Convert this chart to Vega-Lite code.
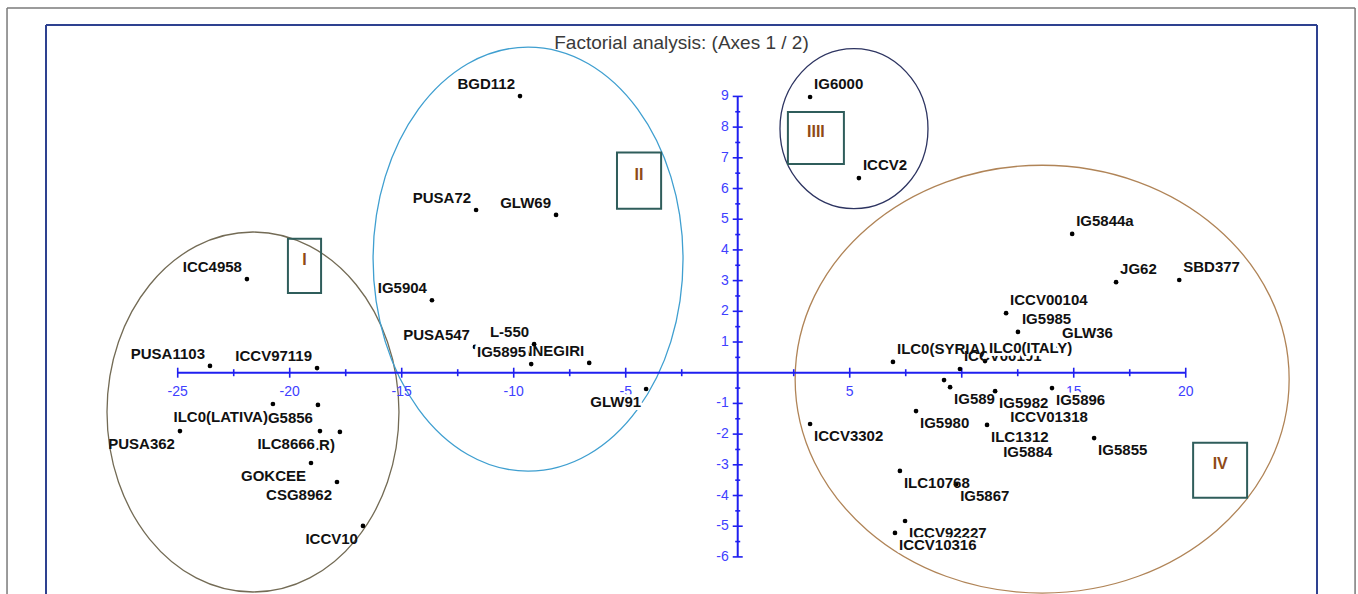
{
  "$schema": "https://vega.github.io/schema/vega-lite/v6.json",
  "width": 1271,
  "height": 569,
  "autosize": {"type": "none"},
  "padding": {"left": 46, "top": 25, "right": 41, "bottom": 0},
  "background": "white",
  "config": {"view": {"stroke": null}, "axis": {"disable": true}},
  "datasets": {
    "clusters": [
      {"group": "I", "cx": -21.64, "cy": -1.28, "bx1": -20.08, "bx2": -18.6, "by1": 4.36, "by2": 2.6, "tx": -19.34, "ty": 3.48},
      {"group": "II", "cx": -9.36, "cy": 3.7, "bx1": -5.39, "bx2": -3.42, "by1": 7.17, "by2": 5.34, "tx": -4.41, "ty": 6.26},
      {"group": "IIII", "cx": 5.19, "cy": 7.95, "bx1": 2.24, "bx2": 4.74, "by1": 8.49, "by2": 6.8, "tx": 3.49, "ty": 7.65},
      {"group": "IV", "cx": 13.59, "cy": -0.21, "bx1": 20.33, "bx2": 22.74, "by1": -2.28, "by2": -4.07, "tx": 21.54, "ty": -3.18}
    ],
    "xticks": [
      {"v": -25, "k": "major"}, {"v": -22.5, "k": "minor"}, {"v": -20, "k": "major"}, {"v": -17.5, "k": "minor"},
      {"v": -15, "k": "major"}, {"v": -12.5, "k": "minor"}, {"v": -10, "k": "major"}, {"v": -7.5, "k": "minor"},
      {"v": -5, "k": "major"}, {"v": -2.5, "k": "minor"}, {"v": 2.5, "k": "minor"}, {"v": 5, "k": "major"},
      {"v": 7.5, "k": "minor"}, {"v": 10, "k": "major"}, {"v": 12.5, "k": "minor"}, {"v": 15, "k": "major"},
      {"v": 17.5, "k": "minor"}, {"v": 20, "k": "major"}
    ],
    "yticks": [
      {"v": 9, "k": "major"}, {"v": 8.5, "k": "minor"}, {"v": 8, "k": "major"}, {"v": 7.5, "k": "minor"},
      {"v": 7, "k": "major"}, {"v": 6.5, "k": "minor"}, {"v": 6, "k": "major"}, {"v": 5.5, "k": "minor"},
      {"v": 5, "k": "major"}, {"v": 4.5, "k": "minor"}, {"v": 4, "k": "major"}, {"v": 3.5, "k": "minor"},
      {"v": 3, "k": "major"}, {"v": 2.5, "k": "minor"}, {"v": 2, "k": "major"}, {"v": 1.5, "k": "minor"},
      {"v": 1, "k": "major"}, {"v": 0.5, "k": "minor"}, {"v": -0.5, "k": "minor"}, {"v": -1, "k": "major"},
      {"v": -1.5, "k": "minor"}, {"v": -2, "k": "major"}, {"v": -2.5, "k": "minor"}, {"v": -3, "k": "major"},
      {"v": -3.5, "k": "minor"}, {"v": -4, "k": "major"}, {"v": -4.5, "k": "minor"}, {"v": -5, "k": "major"},
      {"v": -5.5, "k": "minor"}, {"v": -6, "k": "major"}
    ],
    "xlabels": [
      {"v": -25, "t": "-25"}, {"v": -20, "t": "-20"}, {"v": -15, "t": "-15"}, {"v": -10, "t": "-10"},
      {"v": -5, "t": "-5"}, {"v": 5, "t": "5"}, {"v": 15, "t": "15"}, {"v": 20, "t": "20"}
    ],
    "ylabels": [
      {"v": 9, "t": "9"}, {"v": 8, "t": "8"}, {"v": 7, "t": "7"}, {"v": 6, "t": "6"}, {"v": 5, "t": "5"},
      {"v": 4, "t": "4"}, {"v": 3, "t": "3"}, {"v": 2, "t": "2"}, {"v": 1, "t": "1"}, {"v": -1, "t": "-1"},
      {"v": -2, "t": "-2"}, {"v": -3, "t": "-3"}, {"v": -4, "t": "-4"}, {"v": -5, "t": "-5"}, {"v": -6, "t": "-6"}
    ],
    "obs": [
      {"name": "BGD112", "x": -9.72, "y": 9.01, "pos": "ul", "z": 0},
      {"name": "PUSA72", "x": -11.68, "y": 5.3, "pos": "ul", "z": 0},
      {"name": "GLW69", "x": -8.11, "y": 5.14, "pos": "ul", "z": 0},
      {"name": "ICC4958", "x": -21.91, "y": 3.05, "pos": "ul", "z": 0},
      {"name": "IG5904", "x": -13.65, "y": 2.36, "pos": "ul", "z": 0},
      {"name": "PUSA1103", "x": -23.56, "y": 0.22, "pos": "ul", "z": 0},
      {"name": "ICCV97119", "x": -18.78, "y": 0.15, "pos": "ul", "z": 0},
      {"name": "PUSA547", "x": -11.73, "y": 0.84, "pos": "ul", "z": 0},
      {"name": "L-550", "x": -9.09, "y": 0.93, "pos": "ul", "z": 0},
      {"name": "IG5895", "x": -9.22, "y": 0.28, "pos": "ul", "z": 1},
      {"name": "NNEGIRI", "x": -6.63, "y": 0.32, "pos": "ul", "z": 0},
      {"name": "GLW91", "x": -4.09, "y": -0.53, "pos": "ll", "z": 1},
      {"name": "ILC0(LATIVA)", "x": -20.75, "y": -1.02, "pos": "ll", "z": 0},
      {"name": "G5856", "x": -18.74, "y": -1.05, "pos": "ll", "z": 0},
      {"name": "PUSA362", "x": -24.9, "y": -1.9, "pos": "ll", "z": 0},
      {"name": "ILC8666", "x": -18.65, "y": -1.9, "pos": "ll", "z": 1},
      {"name": ".R)", "x": -17.76, "y": -1.93, "pos": "ll", "z": 0},
      {"name": "GOKCEE", "x": -19.05, "y": -2.94, "pos": "ll", "z": 0},
      {"name": "CSG8962", "x": -17.89, "y": -3.56, "pos": "ll", "z": 0},
      {"name": "ICCV10", "x": -16.73, "y": -4.99, "pos": "ll", "z": 0},
      {"name": "IG6000", "x": 3.23, "y": 8.98, "pos": "ur", "z": 0},
      {"name": "ICCV2", "x": 5.41, "y": 6.34, "pos": "ur", "z": 0},
      {"name": "IG5844a", "x": 14.93, "y": 4.52, "pos": "ur", "z": 0},
      {"name": "JG62", "x": 16.89, "y": 2.95, "pos": "ur", "z": 0},
      {"name": "SBD377", "x": 19.71, "y": 3.02, "pos": "ur", "z": 0},
      {"name": "ICCV00104", "x": 11.98, "y": 1.94, "pos": "ur", "z": 0},
      {"name": "IG5985", "x": 12.51, "y": 1.33, "pos": "ur", "z": 0},
      {"name": "GLW36", "x": 14.3, "y": 0.87, "pos": "ur", "z": 0},
      {"name": "ILC0(SYRIA)", "x": 6.93, "y": 0.35, "pos": "ur", "z": 0},
      {"name": "ICCV00101", "x": 9.92, "y": 0.12, "pos": "ur", "z": 0},
      {"name": "ILC0(ITALY)", "x": 11.04, "y": 0.38, "pos": "ur", "z": 1},
      {"name": "", "x": 9.21, "y": -0.24, "pos": "lr", "z": 0},
      {"name": "IG589", "x": 9.48, "y": -0.47, "pos": "lr", "z": 0},
      {"name": "IG5982", "x": 11.49, "y": -0.6, "pos": "lr", "z": 1},
      {"name": "IG5896", "x": 14.03, "y": -0.5, "pos": "lr", "z": 1},
      {"name": "ICCV01318", "x": 11.99, "y": -1.05, "pos": "lr", "z": 0},
      {"name": "IG5980", "x": 7.96, "y": -1.25, "pos": "lr", "z": 0},
      {"name": "ILC1312", "x": 11.13, "y": -1.7, "pos": "lr", "z": 1},
      {"name": "IG5884", "x": 11.67, "y": -2.18, "pos": "lr", "z": 0},
      {"name": "IG5855", "x": 15.91, "y": -2.13, "pos": "lr", "z": 0},
      {"name": "ICCV3302", "x": 3.23, "y": -1.67, "pos": "lr", "z": 0},
      {"name": "ILC10768", "x": 7.24, "y": -3.2, "pos": "lr", "z": 0},
      {"name": "IG5867", "x": 9.75, "y": -3.63, "pos": "lr", "z": 1},
      {"name": "ICCV92227", "x": 7.47, "y": -4.83, "pos": "lr", "z": 0},
      {"name": "ICCV10316", "x": 7.02, "y": -5.22, "pos": "lr", "z": 1}
    ]
  },
  "layer": [
    {
      "data": {"name": "clusters"},
      "transform": [{"filter": "datum.group === 'I'"}],
      "mark": {"type": "point", "shape": "M -0.811 0 A 0.811 1 0 1 0 0.811 0 A 0.811 1 0 1 0 -0.811 0 Z", "size": 129600, "filled": false, "stroke": "#736b55", "strokeWidth": 1.3, "opacity": 1},
      "encoding": {
        "x": {"field": "cx", "type": "quantitative", "scale": {"domain": [-30.88, 25.86], "nice": false, "zero": false}},
        "y": {"field": "cy", "type": "quantitative", "scale": {"domain": [-7.208, 11.326], "nice": false, "zero": false}}
      }
    },
    {
      "data": {"name": "clusters"},
      "transform": [{"filter": "datum.group === 'II'"}],
      "mark": {"type": "point", "shape": "M -0.731 0 A 0.731 1 0 1 0 0.731 0 A 0.731 1 0 1 0 -0.731 0 Z", "size": 179776, "filled": false, "stroke": "#3f9fd0", "strokeWidth": 1.3, "opacity": 1},
      "encoding": {
        "x": {"field": "cx", "type": "quantitative", "scale": {"domain": [-30.88, 25.86], "nice": false, "zero": false}},
        "y": {"field": "cy", "type": "quantitative", "scale": {"domain": [-7.208, 11.326], "nice": false, "zero": false}}
      }
    },
    {
      "data": {"name": "clusters"},
      "transform": [{"filter": "datum.group === 'IIII'"}],
      "mark": {"type": "point", "shape": "M -0.925 0 A 0.925 1 0 1 0 0.925 0 A 0.925 1 0 1 0 -0.925 0 Z", "size": 25600, "filled": false, "stroke": "#2d3461", "strokeWidth": 1.3, "opacity": 1},
      "encoding": {
        "x": {"field": "cx", "type": "quantitative", "scale": {"domain": [-30.88, 25.86], "nice": false, "zero": false}},
        "y": {"field": "cy", "type": "quantitative", "scale": {"domain": [-7.208, 11.326], "nice": false, "zero": false}}
      }
    },
    {
      "data": {"name": "clusters"},
      "transform": [{"filter": "datum.group === 'IV'"}],
      "mark": {"type": "point", "shape": "M -1 0 A 1 0.866 0 1 0 1 0 A 1 0.866 0 1 0 -1 0 Z", "size": 244036, "filled": false, "stroke": "#b08457", "strokeWidth": 1.3, "opacity": 1},
      "encoding": {
        "x": {"field": "cx", "type": "quantitative", "scale": {"domain": [-30.88, 25.86], "nice": false, "zero": false}},
        "y": {"field": "cy", "type": "quantitative", "scale": {"domain": [-7.208, 11.326], "nice": false, "zero": false}}
      }
    },
    {
      "data": {"name": "clusters"},
      "mark": {"type": "rect", "filled": false, "stroke": "#2f5d5b", "strokeWidth": 2},
      "encoding": {
        "x": {"field": "bx1", "type": "quantitative", "scale": {"domain": [-30.88, 25.86], "nice": false, "zero": false}},
        "x2": {"field": "bx2"},
        "y": {"field": "by1", "type": "quantitative", "scale": {"domain": [-7.208, 11.326], "nice": false, "zero": false}},
        "y2": {"field": "by2"}
      }
    },
    {
      "data": {"name": "clusters"},
      "mark": {"type": "text", "font": "Liberation Sans", "fontSize": 16, "fontWeight": "bold", "color": "#8f4a16", "baseline": "middle", "align": "center", "dy": -6},
      "encoding": {
        "x": {"field": "tx", "type": "quantitative", "scale": {"domain": [-30.88, 25.86], "nice": false, "zero": false}},
        "y": {"field": "ty", "type": "quantitative", "scale": {"domain": [-7.208, 11.326], "nice": false, "zero": false}},
        "text": {"field": "group", "type": "nominal"}
      }
    },
    {
      "data": {"values": [{}]},
      "layer": [
        {
          "mark": {"type": "rule", "color": "#2e4190", "strokeWidth": 2},
          "encoding": {"x": {"datum": -30.88, "scale": {"domain": [-30.88, 25.86], "nice": false, "zero": false}}, "y": {"datum": -7.208, "scale": {"domain": [-7.208, 11.326], "nice": false, "zero": false}}, "y2": {"datum": 11.326}}
        },
        {
          "mark": {"type": "rule", "color": "#2e4190", "strokeWidth": 2},
          "encoding": {"x": {"datum": 25.86}, "y": {"datum": -7.208}, "y2": {"datum": 11.326}}
        },
        {
          "mark": {"type": "rule", "color": "#2e4190", "strokeWidth": 2},
          "encoding": {"x": {"datum": -30.88}, "x2": {"datum": 25.86}, "y": {"datum": 11.326}}
        },
        {
          "mark": {"type": "rule", "color": "#7a7a7a", "strokeWidth": 1.5},
          "encoding": {"x": {"datum": -32.62}, "y": {"datum": -7.208}, "y2": {"datum": 11.88}}
        },
        {
          "mark": {"type": "rule", "color": "#7a7a7a", "strokeWidth": 1.5},
          "encoding": {"x": {"datum": 27.56}, "y": {"datum": -7.208}, "y2": {"datum": 11.88}}
        },
        {
          "mark": {"type": "rule", "color": "#7a7a7a", "strokeWidth": 1.5},
          "encoding": {"x": {"datum": -32.62}, "x2": {"datum": 27.56}, "y": {"datum": 11.88}}
        },
        {
          "mark": {"type": "rule", "color": "#1f1ff0", "strokeWidth": 2},
          "encoding": {"x": {"datum": -25}, "x2": {"datum": 20}, "y": {"datum": 0}}
        },
        {
          "mark": {"type": "rule", "color": "#1f1ff0", "strokeWidth": 2},
          "encoding": {"x": {"datum": 0}, "y": {"datum": -6}, "y2": {"datum": 9}}
        },
        {
          "mark": {"type": "text", "text": "Factorial analysis: (Axes 1 / 2)", "font": "Liberation Sans", "fontSize": 19, "color": "#3a3a3a", "align": "center", "baseline": "alphabetic"},
          "encoding": {"x": {"datum": -2.51}, "y": {"datum": 10.54}}
        }
      ]
    },
    {
      "data": {"name": "xticks"},
      "transform": [{"filter": "datum.k === 'major'"}],
      "mark": {"type": "point", "shape": "M 0 -1 L 0 1", "size": 100, "filled": false, "stroke": "#1f1ff0", "strokeWidth": 1.6, "opacity": 1},
      "encoding": {"x": {"field": "v", "type": "quantitative"}, "y": {"datum": 0}}
    },
    {
      "data": {"name": "xticks"},
      "transform": [{"filter": "datum.k === 'minor'"}],
      "mark": {"type": "point", "shape": "M 0 -1 L 0 1", "size": 49, "filled": false, "stroke": "#1f1ff0", "strokeWidth": 1.6, "opacity": 1},
      "encoding": {"x": {"field": "v", "type": "quantitative"}, "y": {"datum": 0}}
    },
    {
      "data": {"name": "yticks"},
      "transform": [{"filter": "datum.k === 'major'"}],
      "mark": {"type": "point", "shape": "M -1 0 L 1 0", "size": 100, "filled": false, "stroke": "#1f1ff0", "strokeWidth": 1.6, "opacity": 1},
      "encoding": {"x": {"datum": 0}, "y": {"field": "v", "type": "quantitative"}}
    },
    {
      "data": {"name": "yticks"},
      "transform": [{"filter": "datum.k === 'minor'"}],
      "mark": {"type": "point", "shape": "M -1 0 L 1 0", "size": 25, "filled": false, "stroke": "#1f1ff0", "strokeWidth": 1.6, "opacity": 1},
      "encoding": {"x": {"datum": 0}, "y": {"field": "v", "type": "quantitative"}}
    },
    {
      "data": {"name": "xlabels"},
      "mark": {"type": "text", "font": "Liberation Sans", "fontSize": 14, "color": "#4040ff", "align": "center", "baseline": "middle", "dy": 19},
      "encoding": {"x": {"field": "v", "type": "quantitative"}, "y": {"datum": 0}, "text": {"field": "t", "type": "nominal"}}
    },
    {
      "data": {"name": "ylabels"},
      "mark": {"type": "text", "font": "Liberation Sans", "fontSize": 14, "color": "#4040ff", "align": "right", "baseline": "middle", "dx": -9},
      "encoding": {"x": {"datum": 0}, "y": {"field": "v", "type": "quantitative"}, "text": {"field": "t", "type": "nominal"}}
    },
    {
      "data": {"name": "obs"},
      "mark": {"type": "point", "shape": "circle", "size": 22, "filled": true, "color": "#000000", "opacity": 1},
      "encoding": {"x": {"field": "x", "type": "quantitative"}, "y": {"field": "y", "type": "quantitative"}}
    },
    {
      "data": {"name": "obs"},
      "transform": [{"filter": "datum.pos === 'ul' && datum.z === 0"}],
      "mark": {"type": "text", "font": "Liberation Sans", "fontSize": 15, "fontWeight": "bold", "color": "#111111", "align": "right", "baseline": "alphabetic", "dx": -5, "dy": -7},
      "encoding": {"x": {"field": "x", "type": "quantitative"}, "y": {"field": "y", "type": "quantitative"}, "text": {"field": "name", "type": "nominal"}}
    },
    {
      "data": {"name": "obs"},
      "transform": [{"filter": "datum.pos === 'ur' && datum.z === 0"}],
      "mark": {"type": "text", "font": "Liberation Sans", "fontSize": 15, "fontWeight": "bold", "color": "#111111", "align": "left", "baseline": "alphabetic", "dx": 4, "dy": -8},
      "encoding": {"x": {"field": "x", "type": "quantitative"}, "y": {"field": "y", "type": "quantitative"}, "text": {"field": "name", "type": "nominal"}}
    },
    {
      "data": {"name": "obs"},
      "transform": [{"filter": "datum.pos === 'll' && datum.z === 0"}],
      "mark": {"type": "text", "font": "Liberation Sans", "fontSize": 15, "fontWeight": "bold", "color": "#111111", "align": "right", "baseline": "alphabetic", "dx": -5, "dy": 18},
      "encoding": {"x": {"field": "x", "type": "quantitative"}, "y": {"field": "y", "type": "quantitative"}, "text": {"field": "name", "type": "nominal"}}
    },
    {
      "data": {"name": "obs"},
      "transform": [{"filter": "datum.pos === 'lr' && datum.z === 0"}],
      "mark": {"type": "text", "font": "Liberation Sans", "fontSize": 15, "fontWeight": "bold", "color": "#111111", "align": "left", "baseline": "alphabetic", "dx": 4, "dy": 17},
      "encoding": {"x": {"field": "x", "type": "quantitative"}, "y": {"field": "y", "type": "quantitative"}, "text": {"field": "name", "type": "nominal"}}
    },
    {
      "data": {"name": "obs"},
      "transform": [{"filter": "datum.pos === 'ul' && datum.z === 1"}],
      "mark": {"type": "text", "font": "Liberation Sans", "fontSize": 15, "fontWeight": "bold", "fill": "white", "stroke": "white", "strokeWidth": 6, "strokeJoin": "round", "align": "right", "baseline": "alphabetic", "dx": -5, "dy": -7},
      "encoding": {"x": {"field": "x", "type": "quantitative"}, "y": {"field": "y", "type": "quantitative"}, "text": {"field": "name", "type": "nominal"}}
    },
    {
      "data": {"name": "obs"},
      "transform": [{"filter": "datum.pos === 'ur' && datum.z === 1"}],
      "mark": {"type": "text", "font": "Liberation Sans", "fontSize": 15, "fontWeight": "bold", "fill": "white", "stroke": "white", "strokeWidth": 6, "strokeJoin": "round", "align": "left", "baseline": "alphabetic", "dx": 4, "dy": -8},
      "encoding": {"x": {"field": "x", "type": "quantitative"}, "y": {"field": "y", "type": "quantitative"}, "text": {"field": "name", "type": "nominal"}}
    },
    {
      "data": {"name": "obs"},
      "transform": [{"filter": "datum.pos === 'll' && datum.z === 1"}],
      "mark": {"type": "text", "font": "Liberation Sans", "fontSize": 15, "fontWeight": "bold", "fill": "white", "stroke": "white", "strokeWidth": 6, "strokeJoin": "round", "align": "right", "baseline": "alphabetic", "dx": -5, "dy": 18},
      "encoding": {"x": {"field": "x", "type": "quantitative"}, "y": {"field": "y", "type": "quantitative"}, "text": {"field": "name", "type": "nominal"}}
    },
    {
      "data": {"name": "obs"},
      "transform": [{"filter": "datum.pos === 'lr' && datum.z === 1"}],
      "mark": {"type": "text", "font": "Liberation Sans", "fontSize": 15, "fontWeight": "bold", "fill": "white", "stroke": "white", "strokeWidth": 6, "strokeJoin": "round", "align": "left", "baseline": "alphabetic", "dx": 4, "dy": 17},
      "encoding": {"x": {"field": "x", "type": "quantitative"}, "y": {"field": "y", "type": "quantitative"}, "text": {"field": "name", "type": "nominal"}}
    },
    {
      "data": {"name": "obs"},
      "transform": [{"filter": "datum.pos === 'ul' && datum.z === 1"}],
      "mark": {"type": "text", "font": "Liberation Sans", "fontSize": 15, "fontWeight": "bold", "color": "#111111", "align": "right", "baseline": "alphabetic", "dx": -5, "dy": -7},
      "encoding": {"x": {"field": "x", "type": "quantitative"}, "y": {"field": "y", "type": "quantitative"}, "text": {"field": "name", "type": "nominal"}}
    },
    {
      "data": {"name": "obs"},
      "transform": [{"filter": "datum.pos === 'ur' && datum.z === 1"}],
      "mark": {"type": "text", "font": "Liberation Sans", "fontSize": 15, "fontWeight": "bold", "color": "#111111", "align": "left", "baseline": "alphabetic", "dx": 4, "dy": -8},
      "encoding": {"x": {"field": "x", "type": "quantitative"}, "y": {"field": "y", "type": "quantitative"}, "text": {"field": "name", "type": "nominal"}}
    },
    {
      "data": {"name": "obs"},
      "transform": [{"filter": "datum.pos === 'll' && datum.z === 1"}],
      "mark": {"type": "text", "font": "Liberation Sans", "fontSize": 15, "fontWeight": "bold", "color": "#111111", "align": "right", "baseline": "alphabetic", "dx": -5, "dy": 18},
      "encoding": {"x": {"field": "x", "type": "quantitative"}, "y": {"field": "y", "type": "quantitative"}, "text": {"field": "name", "type": "nominal"}}
    },
    {
      "data": {"name": "obs"},
      "transform": [{"filter": "datum.pos === 'lr' && datum.z === 1"}],
      "mark": {"type": "text", "font": "Liberation Sans", "fontSize": 15, "fontWeight": "bold", "color": "#111111", "align": "left", "baseline": "alphabetic", "dx": 4, "dy": 17},
      "encoding": {"x": {"field": "x", "type": "quantitative"}, "y": {"field": "y", "type": "quantitative"}, "text": {"field": "name", "type": "nominal"}}
    }
  ]
}
